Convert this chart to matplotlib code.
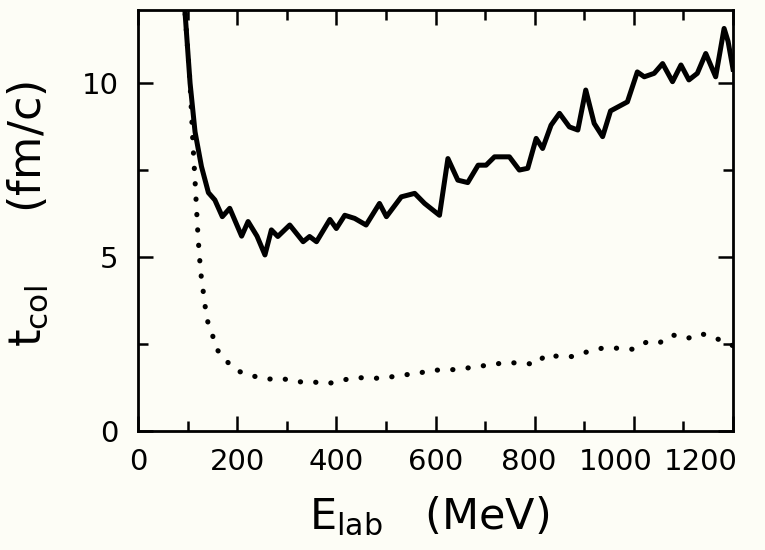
import matplotlib
matplotlib.use("Agg")
import matplotlib.pyplot as plt
from matplotlib.ticker import MultipleLocator
from matplotlib.transforms import ScaledTranslation

# Solid curve (total collision time)
solid_e = [90, 95, 98, 105, 115, 128, 142, 155, 170, 185, 209, 222, 240, 256, 269, 282,
           306, 333, 346, 360, 387, 400, 417, 437, 460, 487, 501, 531, 558, 578, 608,
           625, 645, 665, 686, 702, 719, 749, 769, 786, 803, 816, 833, 850, 870, 887,
           903, 920, 937, 953, 987, 1007, 1021, 1041, 1058, 1078, 1095, 1111, 1128,
           1145, 1165, 1182, 1190, 1200]
solid_t = [13.0, 12.0, 11.4, 10.0, 8.6, 7.6, 6.85, 6.64, 6.16, 6.4, 5.6, 6.02, 5.6, 5.06,
           5.78, 5.59, 5.92, 5.44, 5.59, 5.44, 6.08, 5.82, 6.2, 6.11, 5.92, 6.54, 6.16,
           6.73, 6.83, 6.54, 6.2, 7.83, 7.21, 7.14, 7.64, 7.64, 7.88, 7.88, 7.5, 7.55,
           8.41, 8.12, 8.79, 9.13, 8.74, 8.65, 9.8, 8.84, 8.46, 9.2, 9.46, 10.32, 10.18,
           10.28, 10.56, 10.04, 10.52, 10.09, 10.28, 10.85, 10.18, 11.57, 11.2, 10.4]

# Dotted curve
dot_e = [90, 95, 98, 105, 111, 115, 118, 121, 124, 127, 131, 135, 140, 150, 160, 178,
         202, 232, 261, 290, 321, 350, 380, 409, 440, 470, 501, 532, 562, 590, 621,
         652, 681, 712, 741, 771, 803, 823, 848, 876, 907, 936, 967, 997, 1025, 1050,
         1078, 1108, 1135, 1157, 1182, 1200]
dot_t = [13.0, 12.0, 11.4, 10.0, 8.2, 7.2, 6.4, 5.6, 5.0, 4.5, 4.07, 3.62, 3.17, 2.76,
         2.33, 2.01, 1.72, 1.58, 1.49, 1.51, 1.41, 1.42, 1.35, 1.45, 1.54, 1.51, 1.53,
         1.61, 1.64, 1.75, 1.75, 1.78, 1.85, 1.9, 1.97, 1.95, 1.92, 2.2, 2.14, 2.14,
         2.28, 2.38, 2.38, 2.35, 2.55, 2.52, 2.76, 2.66, 2.8, 2.71, 2.57, 2.45]

x_ticks = [0, 200, 400, 600, 800, 1000, 1200]
y_ticks = [0, 5, 10]

FONT = ['DejaVu Sans']
BG = '#fdfdf6'

fig = plt.figure(figsize=(7.65, 5.5), dpi=100, facecolor=BG)
ax = fig.add_axes([0.1804, 0.2164, 0.7778, 0.7654])
ax.set_facecolor(BG)

ax.plot(solid_e, solid_t, color='black', lw=3.6, solid_joinstyle='round')
ax.plot(dot_e, dot_t, color='black', lw=3.7, linestyle=(0, (0.05, 2.95)),
        dash_capstyle='round')

ax.set_xlim(0, 1200)
ax.set_ylim(0, 12.1)
ax.set_xticks(x_ticks)
ax.set_yticks(y_ticks)
ax.xaxis.set_minor_locator(MultipleLocator(100))
ax.yaxis.set_minor_locator(MultipleLocator(2.5))

ax.tick_params(which='both', direction='in', top=True, right=True, width=1.8, color='black')
ax.tick_params(which='major', length=11, labelsize=21)
ax.tick_params(which='minor', length=7)
ax.tick_params(axis='x', which='major', pad=12)
ax.tick_params(axis='y', which='major', pad=14)
for lab in ax.get_xticklabels() + ax.get_yticklabels():
    lab.set_family(FONT)

# shift the wide labels at the right end leftwards, as in the reference
xlabs = ax.get_xticklabels()
shifts_px = {4: -6, 5: -18, 6: -32}
for i, dx in shifts_px.items():
    xlabs[i].set_transform(xlabs[i].get_transform() +
                           ScaledTranslation(dx / 100.0, 0, fig.dpi_scale_trans))

for sp in ax.spines.values():
    sp.set_linewidth(2.0)

ax.set_xlabel(r'E$_\mathregular{lab}$   (MeV)', fontsize=31, family=FONT)
ax.xaxis.set_label_coords(0.49, -0.152)
ax.set_ylabel(r't$_\mathregular{col}$     (fm/c)', fontsize=32, family=FONT)
ax.yaxis.set_label_coords(-0.148, 0.515)

fig.savefig('out.png', dpi=100, facecolor=fig.get_facecolor())
